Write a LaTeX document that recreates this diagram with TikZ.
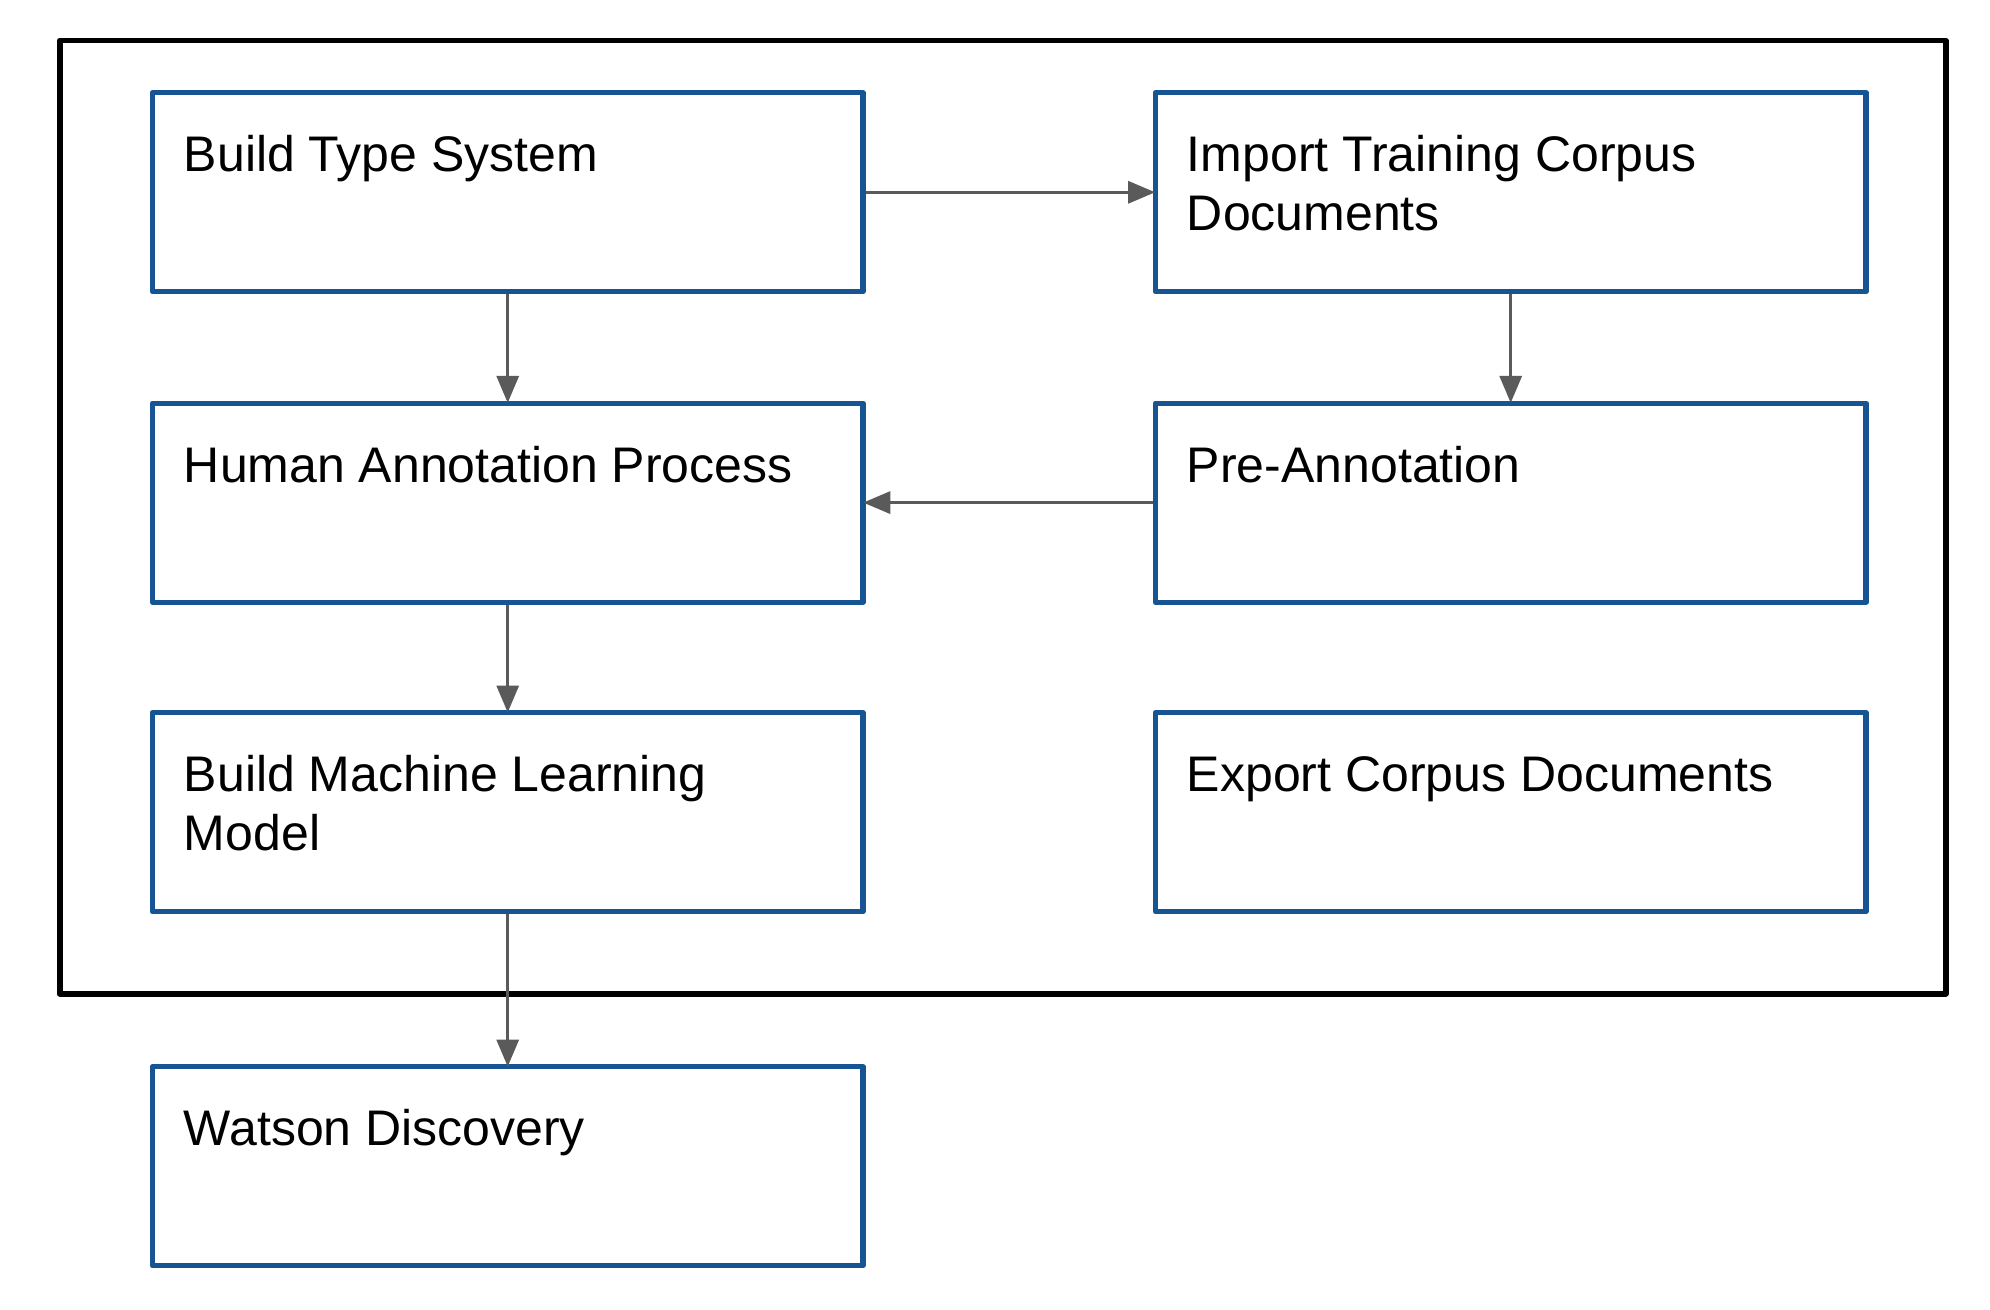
\documentclass[tikz,border=0pt]{standalone}
\usepackage{fontspec}
\setmainfont{Liberation Sans}
\usetikzlibrary{arrows.meta}

\definecolor{boxblue}{RGB}{22,84,147}
\definecolor{flowgray}{RGB}{90,90,90}

\begin{document}
\begin{tikzpicture}[x=0.5pt,y=-0.5pt,
  stepbox/.style={draw=boxblue,line width=2.6pt,line join=round,fill=white,
    rectangle,inner sep=0pt,minimum width=355.35pt,minimum height=99.5pt},
  steptext/.style={anchor=base west,inner sep=0pt,
    font=\fontsize{25pt}{29.5pt}\selectfont},
  flow/.style={draw=flowgray,line width=1.6pt,
    -{Triangle[length=13.5pt,width=11pt]},shorten >=-1.2pt},
  frame/.style={draw=black,line width=2.9pt,line join=round}]

  % canvas
  \useasboundingbox (0,0) rectangle (1990,1310);

  % enclosing frame
  \draw[frame] (59.6,40.6) rectangle (1945.6,993.7);

  % process steps
  \node[stepbox] (typesys)  at (507.7,192.3)  {};
  \node[stepbox] (import)   at (1510.7,192.3) {};
  \node[stepbox] (human)    at (507.7,502.6)  {};
  \node[stepbox] (preann)   at (1510.7,502.6) {};
  \node[stepbox] (mlmodel)  at (507.7,812.2)  {};
  \node[stepbox] (export)   at (1510.7,812.2) {};
  \node[stepbox] (watson)   at (507.7,1166.3) {};

  % step labels
  \node[steptext] (typesysT) at ([xshift=16.9pt,yshift=-40.8pt]typesys.north west)
    {\parbox[t]{330pt}{Build Type System}};
  \node[steptext] (importT) at ([xshift=16.9pt,yshift=-40.8pt]import.north west)
    {\parbox[t]{330pt}{Import Training Corpus\\Documents}};
  \node[steptext] (humanT) at ([xshift=16.9pt,yshift=-40.8pt]human.north west)
    {\parbox[t]{330pt}{Human Annotation Process}};
  \node[steptext] (preannT) at ([xshift=16.9pt,yshift=-40.8pt]preann.north west)
    {\parbox[t]{330pt}{Pre-Annotation}};
  \node[steptext] (mlmodelT) at ([xshift=16.9pt,yshift=-40.8pt]mlmodel.north west)
    {\parbox[t]{330pt}{Build Machine Learning\\Model}};
  \node[steptext] (exportT) at ([xshift=16.9pt,yshift=-40.8pt]export.north west)
    {\parbox[t]{330pt}{Export Corpus Documents}};
  \node[steptext] (watsonT) at ([xshift=16.9pt,yshift=-40.8pt]watson.north west)
    {\parbox[t]{330pt}{Watson Discovery}};

  % connectors
  \draw[flow] (typesys.east) -- (import.west);
  \draw[flow] (typesys.south) -- (human.north);
  \draw[flow] (import.south) -- (preann.north);
  \draw[flow] (preann.west) -- (human.east);
  \draw[flow] (human.south) -- (mlmodel.north);
  \draw[flow] (mlmodel.south) -- (watson.north);
\end{tikzpicture}
\end{document}
